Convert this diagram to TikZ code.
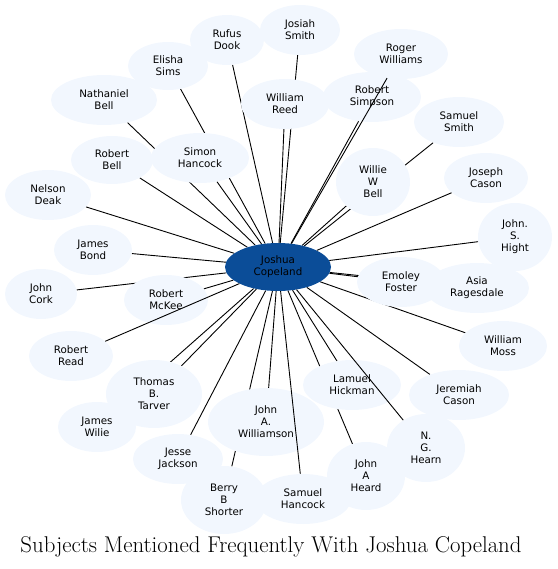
\documentclass[tikz,border=0pt]{standalone}
\usepackage{fontspec}
\setsansfont{DejaVu Sans}
\usetikzlibrary{shapes.geometric}
\definecolor{nodefill}{HTML}{F2F7FE}
\definecolor{hubfill}{HTML}{0B4D98}
\pgfdeclarelayer{background}
\pgfsetlayers{background,main}
\tikzset{
  person/.style={ellipse, fill=nodefill, inner sep=0pt, align=center,
    font=\sffamily\fontsize{10.3}{12}\selectfont},
  hub/.style={ellipse, fill=hubfill, inner sep=0pt, align=center, text=black,
    font=\sffamily\fontsize{10.3}{12}\selectfont},
  link/.style={line width=0.9pt, black},
}
\newcommand{\pers}[5]{\node[person, minimum width=#3*2pt, minimum height=#4*2pt] (#1) at (#2) {#5};}
\begin{document}
\begin{tikzpicture}[x=1pt,y=-1pt]
\useasboundingbox (0,0) rectangle (557,569);
% nodes
\pers{RD}{227,40}{37}{25}{Rufus\\Dook}
\pers{ES}{168,66}{40}{24}{Elisha\\Sims}
\pers{NB}{104,100}{53}{25}{Nathaniel\\Bell}
\pers{RB}{112,160}{41}{24}{Robert\\Bell}
\pers{ND}{48,195}{43}{25}{Nelson\\Deak}
\pers{JB}{93,250}{39}{25}{James\\Bond}
\pers{JS}{300,30}{40}{25}{Josiah\\Smith}
\pers{RS}{372,97}{49}{25}{Robert\\Simpson}
\pers{RW}{401,54}{47}{25}{Roger\\Williams}
\pers{WR}{285,104}{44}{25}{William\\Reed}
\pers{SH}{200,158}{49}{25}{Simon\\Hancock}
\pers{SS}{459,122}{45}{25}{Samuel\\Smith}
\pers{WB}{373,182}{37}{34}{Willie\\W\\Bell}
\pers{JC}{486,178}{42}{25}{Joseph\\Cason}
\pers{JH}{515,237}{37}{34}{John.\\S.\\Hight}
\pers{JK}{41,294}{36}{25}{John\\Cork}
\pers{RM}{166,300}{42}{25}{Robert\\McKee}
\pers{RR}{71,356}{42}{25}{Robert\\Read}
\pers{JW}{97,427}{39}{25}{James\\Wilie}
\pers{TT}{154,394}{48}{34}{Thomas\\B.\\Tarver}
\pers{JJ}{178,459}{45}{25}{Jesse\\Jackson}
\pers{BS}{224,500}{43}{34}{Berry\\B\\Shorter}
\pers{JA}{266,422}{58}{34}{John\\A.\\Williamson}
\pers{SA}{303,499}{48}{25}{Samuel\\Hancock}
\pers{AR}{477,288}{52}{25}{Asia\\Ragesdale}
\pers{EF}{401,282}{44}{25}{Emoley\\Foster}
\pers{WM}{503,346}{44}{25}{William\\Moss}
\pers{JE}{459,395}{50}{25}{Jeremiah\\Cason}
\pers{LH}{352,385}{49}{25}{Lamuel\\Hickman}
\pers{JD}{366,476}{39}{34}{John\\A\\Heard}
\pers{NG}{426,448}{39}{34}{N.\\G.\\Hearn}
\node[hub, minimum width=106pt, minimum height=48pt] (JO) at (278,267) {Joshua\\Copeland};
% edges hidden under the nodes
\begin{pgfonlayer}{background}
\foreach \t in {RD,ES,NB,RB,ND,JB,JS,RS,WR,SH,SS,WB,JC,JH,JK,RM,JW,TT,JJ,BS,JA,AR,EF,WM,JE,LH,JD}
  \draw[link] (JO) -- (\t);
\end{pgfonlayer}
% edges drawn over the nodes they cross
\draw[link] (JO) -- (RW);
\draw[link] (JO) -- (NG);
\draw[link] (JO) -- (RR);
\draw[link] (JO) -- (SA);
\node[font=\fontsize{22.8}{26}\selectfont] (title) at (271,547) {Subjects Mentioned Frequently With Joshua Copeland};
\end{tikzpicture}
\end{document}
